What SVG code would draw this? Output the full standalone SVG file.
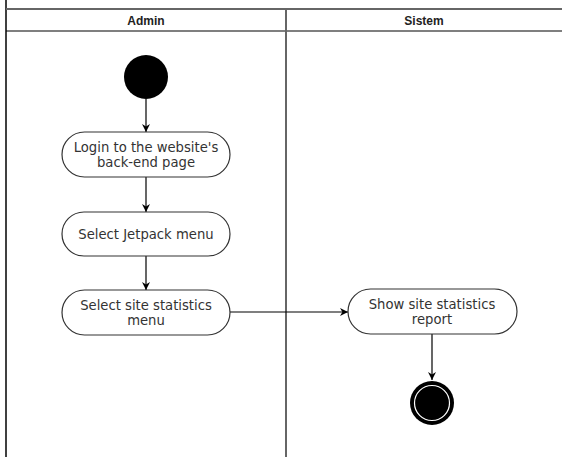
<svg xmlns="http://www.w3.org/2000/svg" width="562" height="457" viewBox="0 0 562 457">
<style>
.lane{stroke:#666;stroke-width:2;fill:none}
.hdr{font-family:"Liberation Sans",Arial,sans-serif;font-weight:bold;font-size:12px;fill:#222;text-anchor:middle}
.act{fill:#fff;stroke:#333;stroke-width:1.2}
.lbl{font-family:"DejaVu Sans",Verdana,sans-serif;font-size:13.2px;fill:#333;text-anchor:middle}
.edge{stroke:#000;stroke-width:1.2;fill:none}
</style>
<defs>
<marker id="arr" viewBox="0 0 10 10" refX="10" refY="5" markerWidth="8" markerHeight="8" markerUnits="userSpaceOnUse" orient="auto">
<path d="M0,0 L10,5 L0,10 L3,5 Z" fill="#000"/>
</marker>
</defs>
<rect width="562" height="457" fill="#fff"/>
<g id="pool">
<line x1="6" y1="0" x2="6" y2="457" stroke="#000" stroke-width="1.5"/>
<line x1="6" y1="9" x2="562" y2="9" class="lane"/>
<line x1="6" y1="31" x2="562" y2="31" stroke="#000" stroke-width="1.2"/>
<line x1="286" y1="9" x2="286" y2="457" class="lane"/>
<text class="hdr" x="146" y="25">Admin</text>
<text class="hdr" x="424" y="25">Sistem</text>
</g>
<g id="edges">
<line class="edge" x1="146" y1="99" x2="146" y2="132" marker-end="url(#arr)"/>
<line class="edge" x1="146" y1="177" x2="146" y2="212" marker-end="url(#arr)"/>
<line class="edge" x1="146" y1="256" x2="146" y2="290" marker-end="url(#arr)"/>
<line class="edge" x1="230" y1="312" x2="348" y2="312" marker-end="url(#arr)"/>
<line class="edge" x1="432" y1="334" x2="432" y2="380" marker-end="url(#arr)"/>
</g>
<g id="start"><circle cx="146" cy="77" r="22" fill="#000"/></g>
<g id="login">
<rect class="act" x="62" y="132" width="168" height="45" rx="22.5"/>
<text class="lbl" x="146" y="152">Login to the website's</text>
<text class="lbl" x="146" y="167">back-end page</text>
</g>
<g id="jetpack">
<rect class="act" x="62" y="212" width="168" height="44" rx="22"/>
<text class="lbl" x="146" y="239">Select Jetpack menu</text>
</g>
<g id="stats">
<rect class="act" x="62" y="290" width="168" height="45" rx="22.5"/>
<text class="lbl" x="146" y="310">Select site statistics</text>
<text class="lbl" x="146" y="325">menu</text>
</g>
<g id="report">
<rect class="act" x="348" y="289" width="169" height="45" rx="22.5"/>
<text class="lbl" x="432" y="309">Show site statistics</text>
<text class="lbl" x="432" y="324">report</text>
</g>
<g id="end">
<circle cx="432" cy="403" r="22" fill="#000"/>
<circle cx="432" cy="403" r="17.5" fill="#000" stroke="#fff" stroke-width="1.2"/>
</g>
</svg>
